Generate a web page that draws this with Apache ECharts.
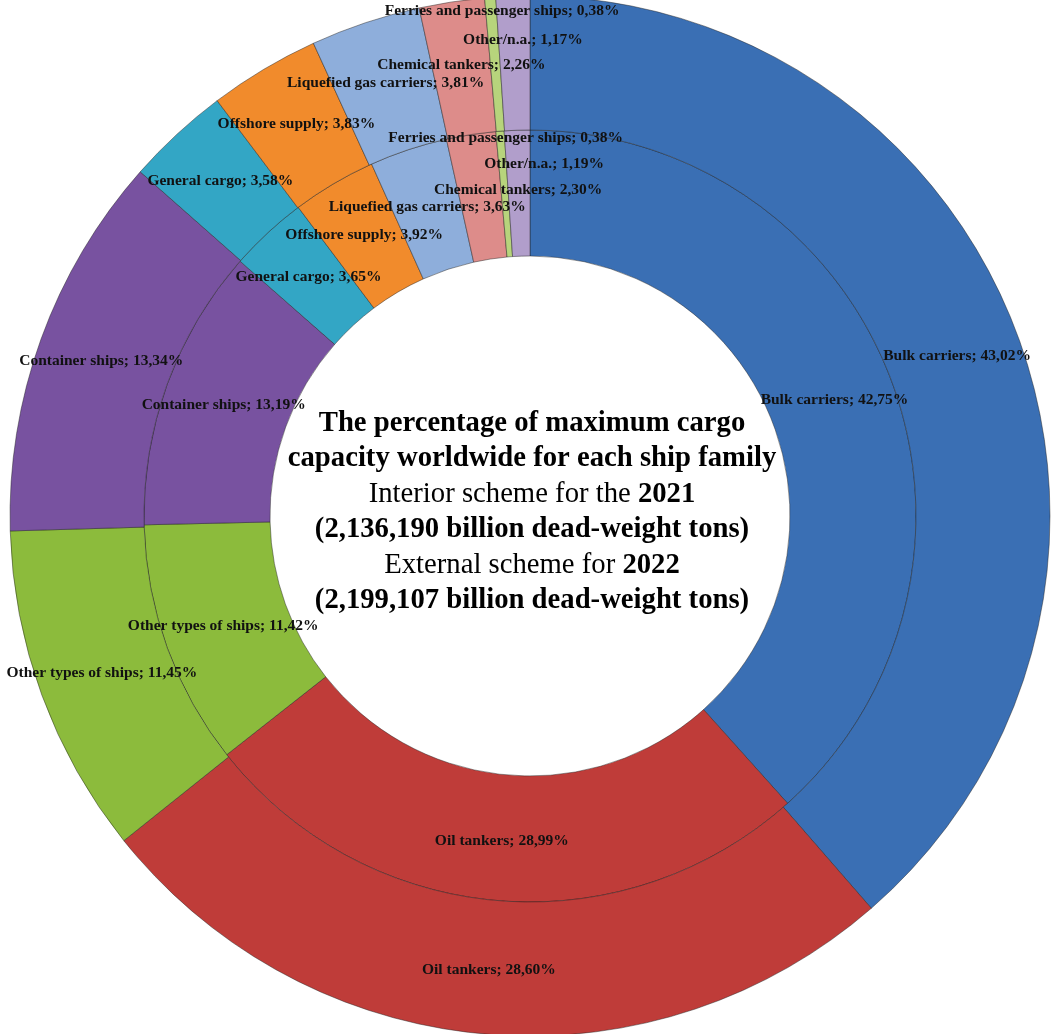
<!DOCTYPE html>
<html>
<head>
<meta charset="utf-8">
<script src="https://cdn.jsdelivr.net/npm/echarts@6/dist/echarts.min.js"></script>
<style>html,body{margin:0;padding:0;background:#fff}#c{width:1056px;height:1034px}</style>
</head>
<body>
<div id="c"></div>
<script>
const categories = ['Bulk carriers','Oil tankers','Other types of ships','Container ships','General cargo','Offshore supply','Liquefied gas carriers','Chemical tankers','Ferries and passenger ships','Other/n.a.'];
const values2021 = [42.75, 28.99, 11.42, 13.19, 3.65, 3.92, 3.63, 2.30, 0.38, 1.19];
const values2022 = [43.02, 28.60, 11.45, 13.34, 3.58, 3.83, 3.81, 2.26, 0.38, 1.17];

const colors = ['#3a6fb4','#bf3c39','#8cbb3c','#7852a0','#33a6c5','#f18b2c','#8eaedb','#dd8c8a','#b7d47c','#b19ecb'];

// label nudges for crowded slices (name -> [dx, dy])
const innerNudge = {'Chemical tankers':[38,-4],'Ferries and passenger ships':[1,-53],'Other/n.a.':[25,-26]};
const outerNudge = {'Ferries and passenger ships':[7,-50],'Other/n.a.':[8,-20]};

function fmt(v){ return v.toFixed(2).replace('.', ','); }
function mk(vals){ return categories.map((n,i)=>({name:n, value:vals[i], itemStyle:{color:colors[i]}})); }

const labelStyle = {
  show:true, position:'inside', color:'#111', fontFamily:'Liberation Serif',
  fontWeight:'bold', fontSize:15.5,
  formatter: p => p.name + '; ' + fmt(p.value) + '%'
};
function layoutFn(nudge){
  return function(params){
    const n = categories[params.dataIndex];
    const d = nudge[n];
    return d ? {dx:d[0], dy:d[1]} : {};
  };
}

const chart = echarts.init(document.getElementById('c'), null, {renderer:'canvas'});
chart.setOption({
  animation:false,
  title:{
    text:[
      '{b|The percentage of maximum cargo}',
      '{b|capacity worldwide for each ship family}',
      '{n|Interior scheme for the }{b|2021}',
      '{b|(2,136,190 billion dead-weight tons)}',
      '{n|External scheme for }{b|2022}',
      '{b|(2,199,107 billion dead-weight tons)}'
    ].join('\n'),
    left:527, top:507, textAlign:'center', textVerticalAlign:'middle',
    textStyle:{
      rich:{
        b:{fontFamily:'Liberation Serif', fontWeight:'bold', fontSize:28.7, lineHeight:35.5, color:'#000'},
        n:{fontFamily:'Liberation Serif', fontWeight:'normal', fontSize:28.7, lineHeight:35.5, color:'#000'}
      }
    }
  },
  series:[
    {
      type:'pie', name:'2021', center:[530,516], radius:[260,386],
      startAngle:90, clockwise:true, silent:true,
      itemStyle:{borderColor:'rgba(30,30,30,0.45)', borderWidth:1},
      label:labelStyle, labelLine:{show:false},
      labelLayout: layoutFn(innerNudge),
      data: mk(values2021)
    },
    {
      type:'pie', name:'2022', center:[530,516], radius:[386,520],
      startAngle:90, clockwise:true, silent:true,
      itemStyle:{borderColor:'rgba(30,30,30,0.45)', borderWidth:1},
      label:labelStyle, labelLine:{show:false},
      labelLayout: layoutFn(outerNudge),
      data: mk(values2022)
    }
  ]
});
</script>
</body>
</html>
